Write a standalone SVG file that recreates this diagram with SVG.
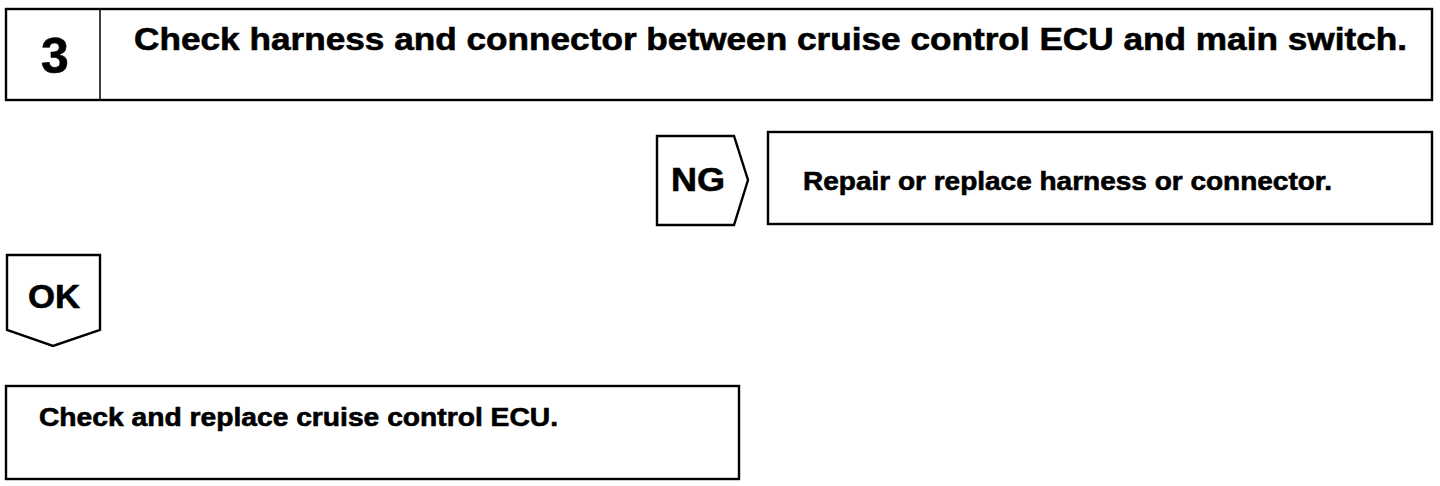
<svg xmlns="http://www.w3.org/2000/svg" width="1440" height="486" viewBox="0 0 1440 486">
<style>
.box{fill:#fff;stroke:#000;stroke-width:2.4}
.t{font-family:"Liberation Sans",Arial,sans-serif;font-weight:bold;fill:#000;stroke:#000;stroke-width:0.6}
</style>
<rect width="1440" height="486" fill="#fff"/>
<g id="step3">
<rect class="box" x="6" y="9" width="1426" height="91"/>
<line x1="100" y1="9" x2="100" y2="100" stroke="#000" stroke-width="1.5"/>
<text class="t" x="55" y="73" font-size="50" text-anchor="middle">3</text>
<text class="t" x="134" y="50" font-size="31" textLength="1273" lengthAdjust="spacingAndGlyphs">Check harness and connector between cruise control ECU and main switch.</text>
</g>
<g id="ng">
<polygon class="box" points="657,136 734,136 748,180 734,225 657,225"/>
<text class="t" x="671" y="191" font-size="33" textLength="54" lengthAdjust="spacingAndGlyphs">NG</text>
</g>
<g id="repair">
<rect class="box" x="768" y="132" width="664" height="92"/>
<text class="t" x="803" y="190" font-size="25" textLength="529" lengthAdjust="spacingAndGlyphs">Repair or replace harness or connector.</text>
</g>
<g id="ok">
<polygon class="box" points="7,255 100,255 100,330 53,346 7,330"/>
<text class="t" x="28" y="308" font-size="33" textLength="52" lengthAdjust="spacingAndGlyphs">OK</text>
</g>
<g id="ecu">
<rect class="box" x="6" y="386" width="733" height="93"/>
<text class="t" x="39" y="426" font-size="25" textLength="519" lengthAdjust="spacingAndGlyphs">Check and replace cruise control ECU.</text>
</g>
<g id="connectors"></g>
</svg>
